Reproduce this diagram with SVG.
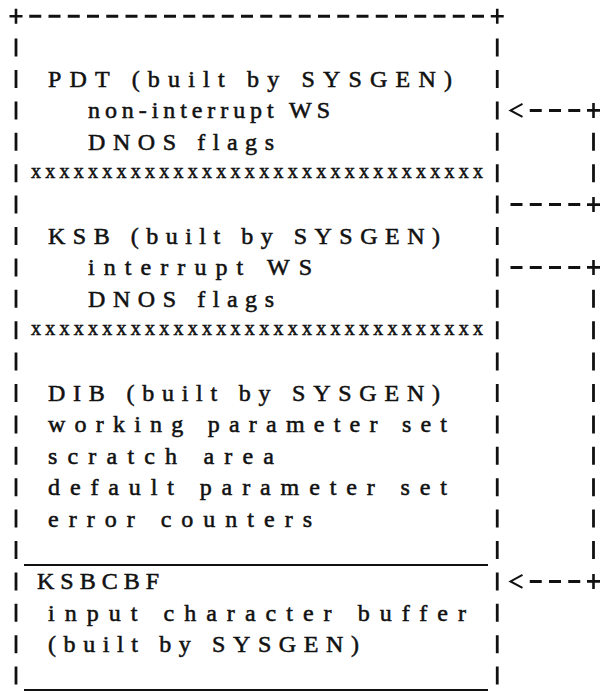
<svg xmlns="http://www.w3.org/2000/svg" width="600" height="692" viewBox="0 0 600 692">
<style>
.t{font-family:"Liberation Serif","DejaVu Serif",serif;font-size:24px;fill:#111;stroke:#111;stroke-width:0.55;font-variant-ligatures:none;font-feature-settings:"liga" 0,"clig" 0}
.xr{font-size:20px}
.bar{stroke:#111;fill:none;stroke-width:2.8;stroke-dasharray:18 13.4}
.dash{stroke:#111;fill:none;stroke-width:3;stroke-dasharray:12 7.25}
.ul{stroke:#111;fill:none;stroke-width:2}
</style>
<defs>
<path id="plus" d="M-6.5 0H6.5M0 -7.5V7.5" stroke="#111" stroke-width="2.6" fill="none"/>
<polyline id="lt" points="6,-6.5 -6,0 6,6.5" stroke="#111" stroke-width="2" fill="none"/>
</defs>
<rect width="600" height="692" fill="#fff"/>
<g id="frame">
<use href="#plus" x="16" y="16.2"/>
<use href="#plus" x="497.25" y="16.2"/>
<line class="dash" x1="29.25" y1="16.2" x2="490" y2="16.2"/>
<line class="bar" x1="16" y1="38.6" x2="16" y2="684.6"/>
<line class="bar" x1="497.25" y1="38.6" x2="497.25" y2="684.6"/>
</g>
<g id="pdt">
<text class="t" x="48" y="87" textLength="404" lengthAdjust="spacing">PDT (built by SYSGEN)</text>
<text class="t" x="88" y="118.4" textLength="242" lengthAdjust="spacing">non-interrupt WS</text>
<text class="t" x="88" y="149.8" textLength="186" lengthAdjust="spacing">DNOS flags</text>
<text class="t xr" x="31" y="178.3" textLength="452" lengthAdjust="spacing">xxxxxxxxxxxxxxxxxxxxxxxxxxxxxxxx</text>
</g>
<g id="ksb">
<text class="t" x="48" y="244" textLength="392" lengthAdjust="spacing">KSB (built by SYSGEN)</text>
<text class="t" x="88" y="275.4" textLength="224" lengthAdjust="spacing">interrupt WS</text>
<text class="t" x="88" y="306.8" textLength="186" lengthAdjust="spacing">DNOS flags</text>
<text class="t xr" x="31" y="335.3" textLength="452" lengthAdjust="spacing">xxxxxxxxxxxxxxxxxxxxxxxxxxxxxxxx</text>
</g>
<g id="dib">
<text class="t" x="48" y="401" textLength="392" lengthAdjust="spacing">DIB (built by SYSGEN)</text>
<text class="t" x="48" y="432.4" textLength="399" lengthAdjust="spacing">working parameter set</text>
<text class="t" x="48" y="463.8" textLength="226" lengthAdjust="spacing">scratch area</text>
<text class="t" x="48" y="495.2" textLength="399" lengthAdjust="spacing">default parameter set</text>
<text class="t" x="48" y="526.6" textLength="264" lengthAdjust="spacing">error counters</text>
<line class="ul" x1="24" y1="565" x2="488" y2="565"/>
</g>
<g id="ksbcbf">
<text class="t" x="37" y="589.4" textLength="122" lengthAdjust="spacing">KSBCBF</text>
<text class="t" x="48" y="620.8" textLength="418" lengthAdjust="spacing">input character buffer</text>
<text class="t" x="48" y="652.2" textLength="311" lengthAdjust="spacing">(built by SYSGEN)</text>
<line class="ul" x1="24" y1="690" x2="488" y2="690"/>
</g>
<g id="connectors">
<use href="#lt" x="516.5" y="110.4"/>
<line class="dash" x1="529.75" y1="110.4" x2="583" y2="110.4"/>
<use href="#plus" x="593.5" y="110.4"/>
<line class="bar" x1="593.5" y1="132.8" x2="593.5" y2="182.2"/>
<line class="dash" x1="510.5" y1="204.6" x2="583" y2="204.6"/>
<use href="#plus" x="593.5" y="204.6"/>
<line class="dash" x1="510.5" y1="267.4" x2="583" y2="267.4"/>
<use href="#plus" x="593.5" y="267.4"/>
<line class="bar" x1="593.5" y1="289.8" x2="593.5" y2="559"/>
<use href="#lt" x="516.5" y="581.4"/>
<line class="dash" x1="529.75" y1="581.4" x2="583" y2="581.4"/>
<use href="#plus" x="593.5" y="581.4"/>
</g>
</svg>
